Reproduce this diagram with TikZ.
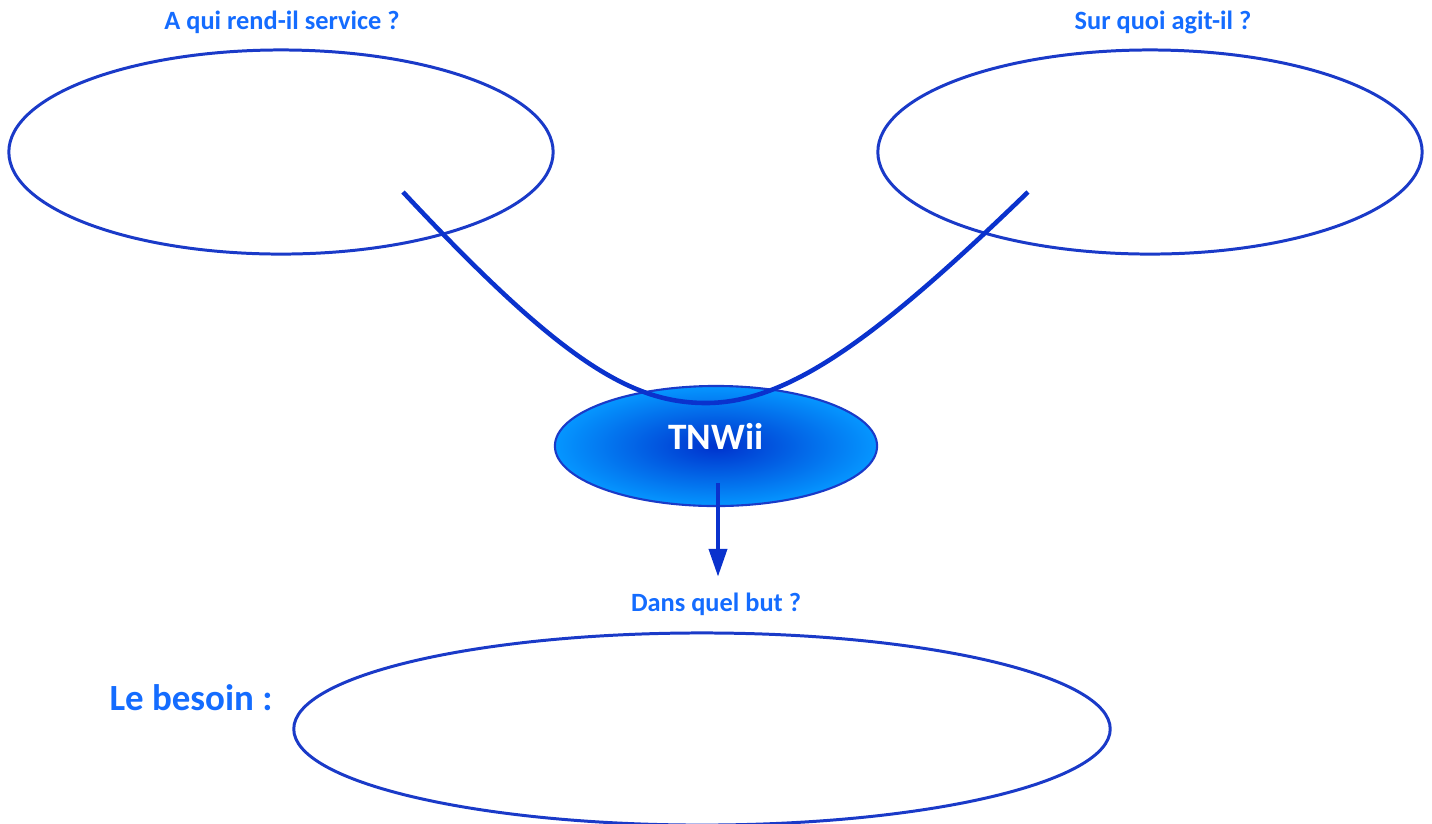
\documentclass[tikz,border=0pt]{standalone}
\usepackage{fontspec}
\setmainfont{Carlito}
\usetikzlibrary{shapes.geometric,arrows.meta}
\definecolor{txtblue}{RGB}{20,108,255}
\definecolor{rimblue}{RGB}{26,58,200}
\definecolor{curveblue}{RGB}{10,50,205}
\definecolor{coreblue}{RGB}{0,50,205}
\definecolor{skyblue}{RGB}{5,150,255}

\begin{document}
\begin{tikzpicture}[x=0.01cm,y=-0.01cm,
  bubble/.style={ellipse,draw=rimblue,line width=0.85pt,inner sep=0pt},
  question/.style={text=txtblue,font=\bfseries\fontsize{7.5}{9}\selectfont}]
\useasboundingbox (0,0) rectangle (1432,823);

 \node[bubble,minimum width=5.44cm,minimum height=2.04cm] (qui) at (281,152) {};
 \node[bubble,minimum width=5.44cm,minimum height=2.04cm] (quoi) at (1150,152) {};
 \node[bubble,minimum width=8.16cm,minimum height=1.92cm] (besoin) at (702,729) {};
 \node[bubble,minimum width=3.22cm,minimum height=1.2cm,line width=0.6pt,
   shading=radial,inner color=coreblue,outer color=skyblue] (tnwii) at (716,446) {};
 \node[text=white,font=\bfseries\fontsize{10.6}{12}\selectfont] (nom) at (716,436) {TNWii};

 \node[question] (q1) at (282,22) {A qui rend-il service ?};
 \node[question] (q2) at (1163,22) {Sur quoi agit-il ?};
 \node[question] (q3) at (716,604) {Dans quel but ?};
 \node[text=txtblue,font=\bfseries\fontsize{10.5}{12}\selectfont] (lb) at (191,698) {Le besoin :};

 \coordinate (a) at (403,192);
 \coordinate (b) at (706,403);
 \coordinate (c) at (1028,192);
 \draw[curveblue,line width=1.3pt] (a) .. controls (560,360) and (630,403) .. (b)
   .. controls (790,403) and (880,335) .. (c);

 \coordinate (d) at (718,483);
 \coordinate (e) at (718,577);
 \draw[curveblue,line width=1.4pt,-{Triangle[length=8pt,width=5pt]}] (d)--(e);
\end{tikzpicture}
\end{document}
